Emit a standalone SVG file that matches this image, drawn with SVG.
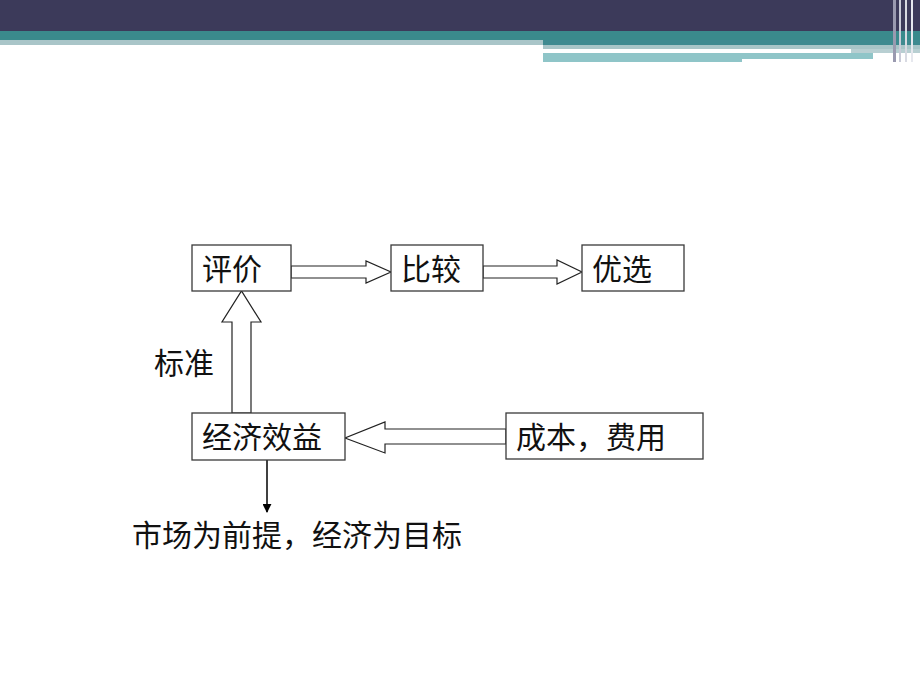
<svg xmlns="http://www.w3.org/2000/svg" width="920" height="690" viewBox="0 0 920 690">
<style>
.box{fill:#fff;stroke:#3a3a3a;stroke-width:1.3}
.harrow{fill:#fff;stroke:#222;stroke-width:1.2;stroke-linejoin:miter}
.t{font-family:"Noto Sans CJK SC","Noto Sans",sans-serif;font-size:30px;fill:#111}
</style>
<defs>
<marker id="ah" viewBox="0 0 10 10" refX="9" refY="5" markerWidth="9" markerHeight="9" markerUnits="userSpaceOnUse" orient="auto">
<path d="M0,0 L10,5 L0,10 z" fill="#000"/>
</marker>
</defs>
<g id="banner">
<rect x="0" y="0" width="920" height="31" fill="#3c3a5a"/>
<rect x="0" y="31" width="920" height="9" fill="#3a8a8c"/>
<rect x="0" y="40" width="543" height="5" fill="#a9c5c8"/>
<rect x="543" y="40" width="377" height="5" fill="#3f8a90"/>
<rect x="543" y="45" width="377" height="4" fill="#a9c5c8"/>
<rect x="543" y="49" width="308" height="4" fill="#ffffff"/>
<rect x="851" y="49" width="69" height="4" fill="#b8cfd2"/>
<rect x="543" y="53" width="330" height="6" fill="#8fc5c8"/>
<rect x="543" y="59" width="199" height="3" fill="#8fc5c8"/>
<rect x="893" y="0" width="3" height="62" fill="#9a9ab0"/>
<rect x="899" y="0" width="2" height="62" fill="#c9cbd8"/>
<rect x="905" y="0" width="2" height="62" fill="#d8dae2"/>
<rect x="911" y="0" width="2" height="62" fill="#e6e8ee"/>
</g>
<g id="connectors">
<path class="harrow" d="M291,266 L366,266 L366,261 L391,272 L366,283 L366,278 L291,278 Z"/>
<path class="harrow" d="M483,266 L557,266 L557,260 L582,272 L557,284 L557,278 L483,278 Z"/>
<path class="harrow" d="M232,413 L232,322 L222,322 L241.5,291 L261,322 L251,322 L251,413 Z"/>
<path class="harrow" d="M506,429 L385,429 L385,422 L345,438 L385,453 L385,444 L506,444 Z"/>
<line x1="267" y1="460" x2="267" y2="512" stroke="#000" stroke-width="1.5" marker-end="url(#ah)"/>
</g>
<g id="node-pingjia">
<rect class="box" x="192" y="245" width="99" height="46"/>
<text class="t" x="202" y="280">评价</text>
</g>
<g id="node-bijiao">
<rect class="box" x="391" y="245" width="92" height="46"/>
<text class="t" x="401" y="280">比较</text>
</g>
<g id="node-youxuan">
<rect class="box" x="582" y="245" width="102" height="46"/>
<text class="t" x="592" y="280">优选</text>
</g>
<g id="node-jingjixiaoyi">
<rect class="box" x="192" y="413" width="153" height="47"/>
<text class="t" x="202" y="448">经济效益</text>
</g>
<g id="node-chengben">
<rect class="box" x="506" y="413" width="197" height="46"/>
<text class="t" x="516" y="448">成本，费用</text>
</g>
<g id="labels">
<text class="t" x="154" y="374">标准</text>
<text class="t" x="132" y="546">市场为前提，经济为目标</text>
</g>
</svg>
